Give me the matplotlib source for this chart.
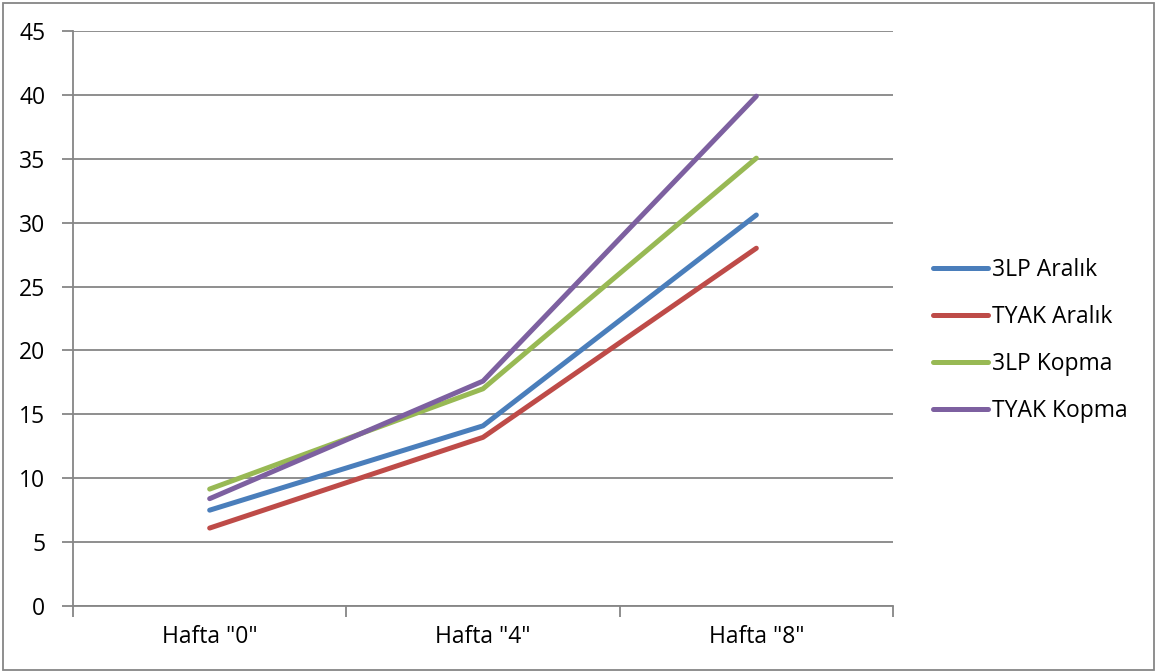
import matplotlib.pyplot as plt
from matplotlib.patches import Rectangle

plt.rcParams['font.family'] = ['Open Sans', 'DejaVu Sans']

categories = ['Hafta "0"', 'Hafta "4"', 'Hafta "8"']
series_names = ['3LP Aralık', 'TYAK Aralık', '3LP Kopma', 'TYAK Kopma']
lp_aralik = [7.5, 14.1, 30.6]
tyak_aralik = [6.1, 13.2, 28.0]
lp_kopma = [9.15, 17.0, 35.05]
tyak_kopma = [8.4, 17.6, 39.9]
colors = ['#4A7EBB', '#BE4B48', '#98B954', '#7D60A0']

fig = plt.figure(figsize=(11.57, 6.72), dpi=100)
ax = fig.add_axes([73 / 1157, 1 - 606 / 672, 820 / 1157, 575 / 672])

x = list(range(len(categories)))
for vals, name, c in zip([lp_aralik, tyak_aralik, lp_kopma, tyak_kopma], series_names, colors):
    ax.plot(x, vals, color=c, lw=3.6, label=name, solid_capstyle='round', zorder=3)

grid_c = '#868686'
fs = 16.5
ax.set_xlim(-0.5, 2.5)
ax.set_ylim(0, 45)
ax.set_yticks(range(0, 46, 5))
ax.yaxis.grid(True, color=grid_c, lw=1.3)
ax.set_axisbelow(True)

ax.set_xticks([-0.5, 0.5, 1.5, 2.5])
ax.set_xticklabels([])
ax.set_xticks(x, minor=True)
ax.set_xticklabels(categories, minor=True)
ax.tick_params(axis='x', which='minor', length=0, pad=14, labelsize=fs)
ax.tick_params(axis='x', which='major', length=8, width=1.3, color=grid_c)
ax.tick_params(axis='y', length=8, width=1.3, color=grid_c, pad=12, labelsize=fs)

for s in ['top', 'right']:
    ax.spines[s].set_visible(False)
for s in ['left', 'bottom']:
    ax.spines[s].set_color(grid_c)
    ax.spines[s].set_linewidth(1.3)

leg = ax.legend(loc='center left', bbox_to_anchor=(1.024, 0.462), frameon=False,
                fontsize=fs, handlelength=2.4, handletextpad=0.18, labelspacing=1.0)

fig.patches.append(Rectangle((3 / 1157, 2 / 672), 1151 / 1157, 667 / 672,
                             transform=fig.transFigure, fill=False,
                             edgecolor='#868686', lw=1.3))

fig.savefig('out.png', dpi=100)
